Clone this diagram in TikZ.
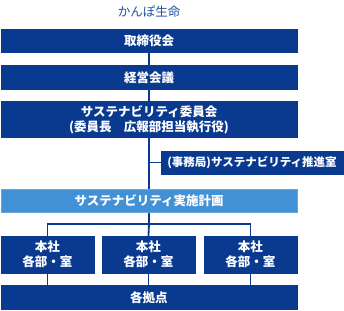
\documentclass[tikz,border=0pt]{standalone}
\usepackage{fontspec}
\setmainfont{Noto Sans CJK JP}
\usetikzlibrary{positioning}
\definecolor{navyc}{RGB}{10,58,143}
\definecolor{skyc}{RGB}{66,145,214}
\definecolor{titc}{RGB}{30,80,160}

\begin{document}
\begin{tikzpicture}[x=1pt,y=-1pt,
  box/.style={draw=navyc,fill=navyc,text=white,font=\fontsize{12.5}{15}\selectfont\bfseries,
    align=center,inner sep=0pt,minimum width=296pt,minimum height=23.5pt},
  lite/.style={box,draw=skyc!80,fill=skyc},
  dept/.style={box,minimum width=92.5pt,minimum height=37pt},
  link/.style={draw=navyc,line width=1.8pt}]
\useasboundingbox (0,0) rectangle (344,310);
% --- title and main chain ---
\node[text=titc,font=\fontsize{12.5}{15}\selectfont] (firm) at (149,12) {かんぽ生命};
\node[box] (board) at (149,40.5) {取締役会};
\node[box,below=13pt of board] (mgmt) {経営会議};
\node[box,below=12pt of mgmt,minimum height=36pt] (comm)
     {サステナビリティ委員会\\(委員長\quad 広報部担当執行役)};
\node[box,minimum width=182pt,minimum height=23pt,font=\fontsize{11.5}{14}\selectfont\bfseries]
     (office) at (252,162.5) {(事務局)サステナビリティ推進室};
\node[lite,below=51pt of comm] (plan) {サステナビリティ実施計画};
% --- departments and sites ---
\node[dept,anchor=north west] (deptA) at (1,236) {本社\\各部・室};
\node[dept,anchor=north west] (deptB) at (102,236) {本社\\各部・室};
\node[dept,anchor=north west] (deptC) at (204,236) {本社\\各部・室};
\node[box,below=12pt of deptB.south,anchor=north,xshift=0.5pt] (site) {各拠点};
% --- connectors ---
\coordinate (split) at (149,224);
\draw[link] (board) -- (mgmt);
\draw[link] (mgmt) -- (comm);
\draw[link] (comm) -- (plan);
\draw[link] (comm.south |- office.west) -- (office.west);
\draw[link] (plan) -- (split);
\draw[link] (deptA.north) |- (split) -| (deptC.north);
\draw[link] (split) -- (deptB.north);
\draw[link] (deptA.south) -- (deptA.south |- site.north);
\draw[link] (deptB.south) -- (deptB.south |- site.north);
\draw[link] (deptC.south) -- (deptC.south |- site.north);
\end{tikzpicture}
\end{document}
